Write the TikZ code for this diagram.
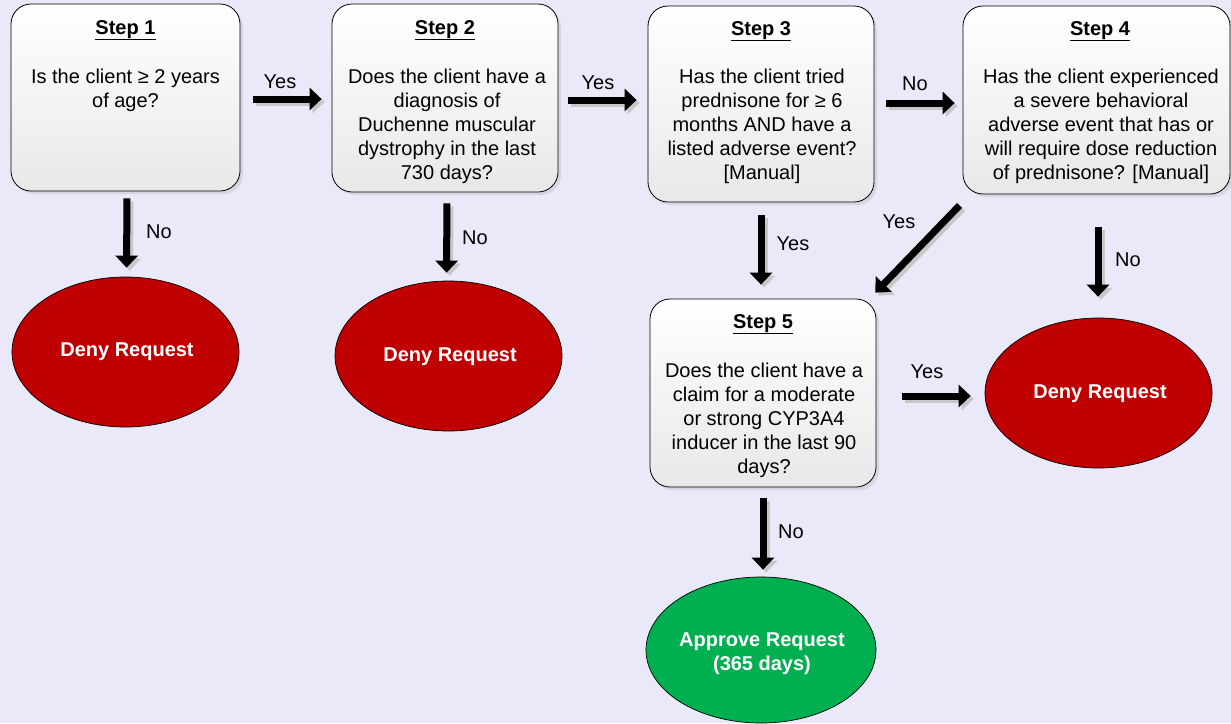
\documentclass[tikz,border=0pt]{standalone}
\usepackage{fontspec}
\setmainfont{Liberation Sans}
\usetikzlibrary{shapes.geometric,arrows.meta,shadows,calc}
\definecolor{bg}{HTML}{E9E9FA}
\definecolor{denyred}{HTML}{C00000}
\definecolor{okgreen}{HTML}{00B050}
\newcommand{\myfs}{\fontsize{20}{24}\selectfont}
\tikzset{
  box/.style={draw=black, line width=0.8pt, rounded corners=20pt, top color=white, bottom color=black!9,
    inner sep=0pt, drop shadow={opacity=0.18, shadow xshift=3pt, shadow yshift=-3pt}},
  oval/.style={ellipse, draw=black, line width=0.7pt, inner sep=0pt},
  otext/.style={text=white, font=\myfs\bfseries, align=center, inner sep=0pt},
  ttl/.style={font=\myfs\bfseries, anchor=base, inner sep=0pt},
  body/.style={font=\myfs, align=center, anchor=base, inner sep=0pt},
  lbl/.style={font=\myfs, inner sep=0pt},
  barrow/.style={line width=7pt, draw=black, -{Triangle[length=12pt,width=22pt]}},
  bshadow/.style={line width=7pt, draw=black!22, -{Triangle[length=12pt,width=22pt]},
    transform canvas={xshift=3pt,yshift=-3pt}},
}
\newcommand{\blockarrow}[3]{\draw[bshadow,#1] #2 -- #3; \draw[barrow,#1] #2 -- #3;}
\begin{document}
\begin{tikzpicture}[x=1pt,y=-1pt]
\useasboundingbox (0,0) rectangle (1231,723);
\fill[bg] (0,0) rectangle (1231,723);

% boxes
\node[box, minimum width=229pt, minimum height=187pt] (s1) at (125.5,97.5) {};
\node[box, minimum width=226pt, minimum height=188pt] (s2) at (445,98) {};
\node[box, minimum width=226pt, minimum height=196pt] (s3) at (761,104) {};
\node[box, minimum width=267pt, minimum height=188pt] (s4) at (1096.5,100) {};
\node[box, minimum width=226pt, minimum height=188pt] (s5) at (763,393) {};

% titles
\node[ttl] (t1) at (125.5,34) {\underline{Step 1}};
\node[ttl] (t2) at (445,34) {\underline{Step 2}};
\node[ttl] (t3) at (761,35) {\underline{Step 3}};
\node[ttl] (t4) at (1100,35) {\underline{Step 4}};
\node[ttl] (t5) at (763,328) {\underline{Step 5}};

% bodies (base = baseline of last line)
\node[body] (b1) at (125.5,107) {Is the client ≥ 2 years\\of age?};
\node[body] (b2) at (447,179) {Does the client have a\\diagnosis of\\Duchenne muscular\\dystrophy in the last\\730 days?};
\node[body] (b3) at (762,179) {Has the client tried\\prednisone for ≥ 6\\months AND have a\\listed adverse event?\\{[Manual]}};
\node[body] (b4) at (1101,179) {Has the client experienced\\a severe behavioral\\adverse event that has or\\will require dose reduction\\of prednisone? [Manual]};
\node[body] (b5) at (764,473) {Does the client have a\\claim for a moderate\\or strong CYP3A4\\inducer in the last 90\\days?};

% outcomes
\node[oval, fill=denyred, minimum width=227pt, minimum height=150pt] (d1) at (125.5,352) {};
\node[oval, fill=denyred, minimum width=227pt, minimum height=150pt] (d2) at (448.5,356) {};
\node[oval, fill=denyred, minimum width=227pt, minimum height=150pt] (d3) at (1098.5,393) {};
\node[oval, fill=okgreen, minimum width=230pt, minimum height=146pt] (ap) at (761,650) {};
\node[otext] (dt1) at (127,352) {Deny Request};
\node[otext] (dt2) at (450,357) {Deny Request};
\node[otext] (dt3) at (1100,394) {Deny Request};
\node[otext] (apt) at (762,654) {Approve Request\\(365 days)};

% arrows
\blockarrow{shorten <=13pt, shorten >=10pt}{([yshift=-1.5pt]s1.east)}{([yshift=-1pt]s2.west)}
\blockarrow{shorten <=10pt, shorten >=11pt}{([yshift=-2pt]s2.east)}{([yshift=4pt]s3.west)}
\blockarrow{shorten <=12pt, shorten >=8pt}{([yshift=1pt]s3.east)}{([yshift=-3pt]s4.west)}
\blockarrow{shorten <=7pt, shorten >=9pt}{([xshift=1.5pt]s1.south)}{([xshift=1pt]d1.north)}
\blockarrow{shorten <=11pt, shorten >=8pt}{([xshift=2pt]s2.south)}{([xshift=-2pt]d2.north)}
\blockarrow{shorten <=13pt, shorten >=14pt}{(s3.south)}{([xshift=-2pt]s5.north)}
\blockarrow{}{([shift={(-3,11)}]s4.south west)}{([shift={(-1,-6)}]s5.north east)}
\blockarrow{shorten <=33pt, shorten >=21pt}{([xshift=1.5pt]s4.south)}{([xshift=-0.5pt]d3.north)}
\blockarrow{shorten <=26pt, shorten >=14pt}{([yshift=-3pt]s5.east)}{([yshift=-3pt]d3.west)}
\blockarrow{shorten <=11pt, shorten >=7pt}{(s5.south)}{([xshift=2pt]ap.north)}

% labels
\node[lbl] (y1) at (280,82) {Yes};
\node[lbl] (y2) at (598,83) {Yes};
\node[lbl] (n3) at (915,84) {No};
\node[lbl] (n1) at (159,232) {No};
\node[lbl] (n2) at (475,238) {No};
\node[lbl] (y3) at (793,244) {Yes};
\node[lbl] (y4) at (899,222) {Yes};
\node[lbl] (n4) at (1128,260) {No};
\node[lbl] (y5) at (927,372) {Yes};
\node[lbl] (n5) at (791,532) {No};
\end{tikzpicture}
\end{document}
